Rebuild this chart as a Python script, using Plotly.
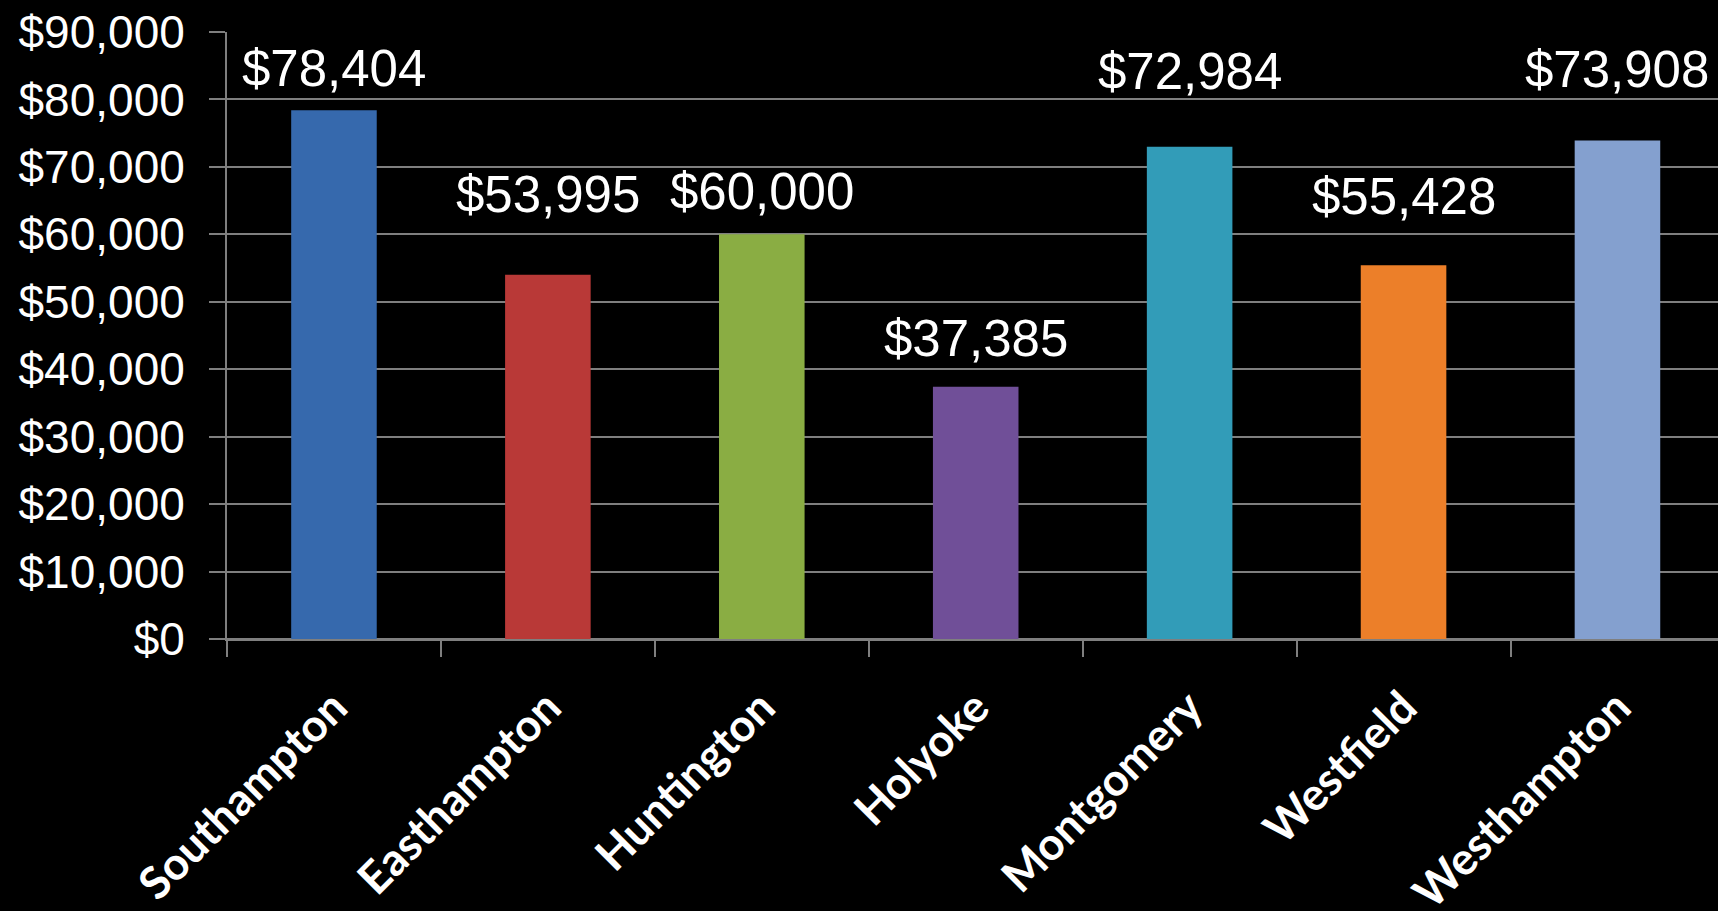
import plotly.graph_objects as go

towns = ["Southampton", "Easthampton", "Huntington", "Holyoke",
         "Montgomery", "Westfield", "Westhampton"]
incomes = [78404, 53995, 60000, 37385, 72984, 55428, 73908]
bar_colors = ["#3669ad", "#b93937", "#8aad43", "#704f98",
              "#329cb8", "#ec7f29", "#84a0cf"]
# distance (px) of each value label centre above the top of its bar
label_offsets_px = [42, 80, 43, 48, 75, 69, 71]

y_ticks = list(range(0, 90001, 10000))
y_tick_labels = [f"${v:,}" for v in y_ticks]

fig = go.Figure()
fig.add_trace(go.Bar(
    x=towns, y=incomes, width=0.4,
    marker=dict(color=bar_colors, line=dict(width=0)),
    hoverinfo="skip",
))

for t, v, off in zip(towns, incomes, label_offsets_px):
    fig.add_annotation(
        x=t, y=v, yshift=off, yanchor="middle", xanchor="center",
        text=f"${v:,}", showarrow=False,
        font=dict(family="Liberation Sans, Arial", size=51, color="white"),
    )

grid = "#7f7f7f"
fig.update_layout(
    width=1718, height=911,
    paper_bgcolor="black", plot_bgcolor="black",
    margin=dict(l=227, r=0, t=32, b=272, autoexpand=False),
    showlegend=False,
    xaxis=dict(
        range=[-0.5, 6.47], tickangle=-45, automargin=False,
        tickson="boundaries", ticks="outside", ticklen=16, tickwidth=2,
        tickcolor=grid, showline=True, linecolor=grid, linewidth=2,
        showgrid=False, ticklabelstandoff=22,
        tickfont=dict(family="Lato", size=45, color="white", weight="bold"),
    ),
    yaxis=dict(
        range=[0, 90000], tickvals=y_ticks, ticktext=y_tick_labels,
        automargin=False,
        ticks="outside", ticklen=16, tickwidth=2, tickcolor=grid,
        showline=True, linecolor=grid, linewidth=2,
        showgrid=True, gridcolor=grid, gridwidth=2,
        zeroline=True, zerolinecolor=grid, zerolinewidth=2,
        ticklabelstandoff=15,
        tickfont=dict(family="Liberation Sans, Arial", size=46, color="white"),
    ),
)

fig.write_html("out.html")
